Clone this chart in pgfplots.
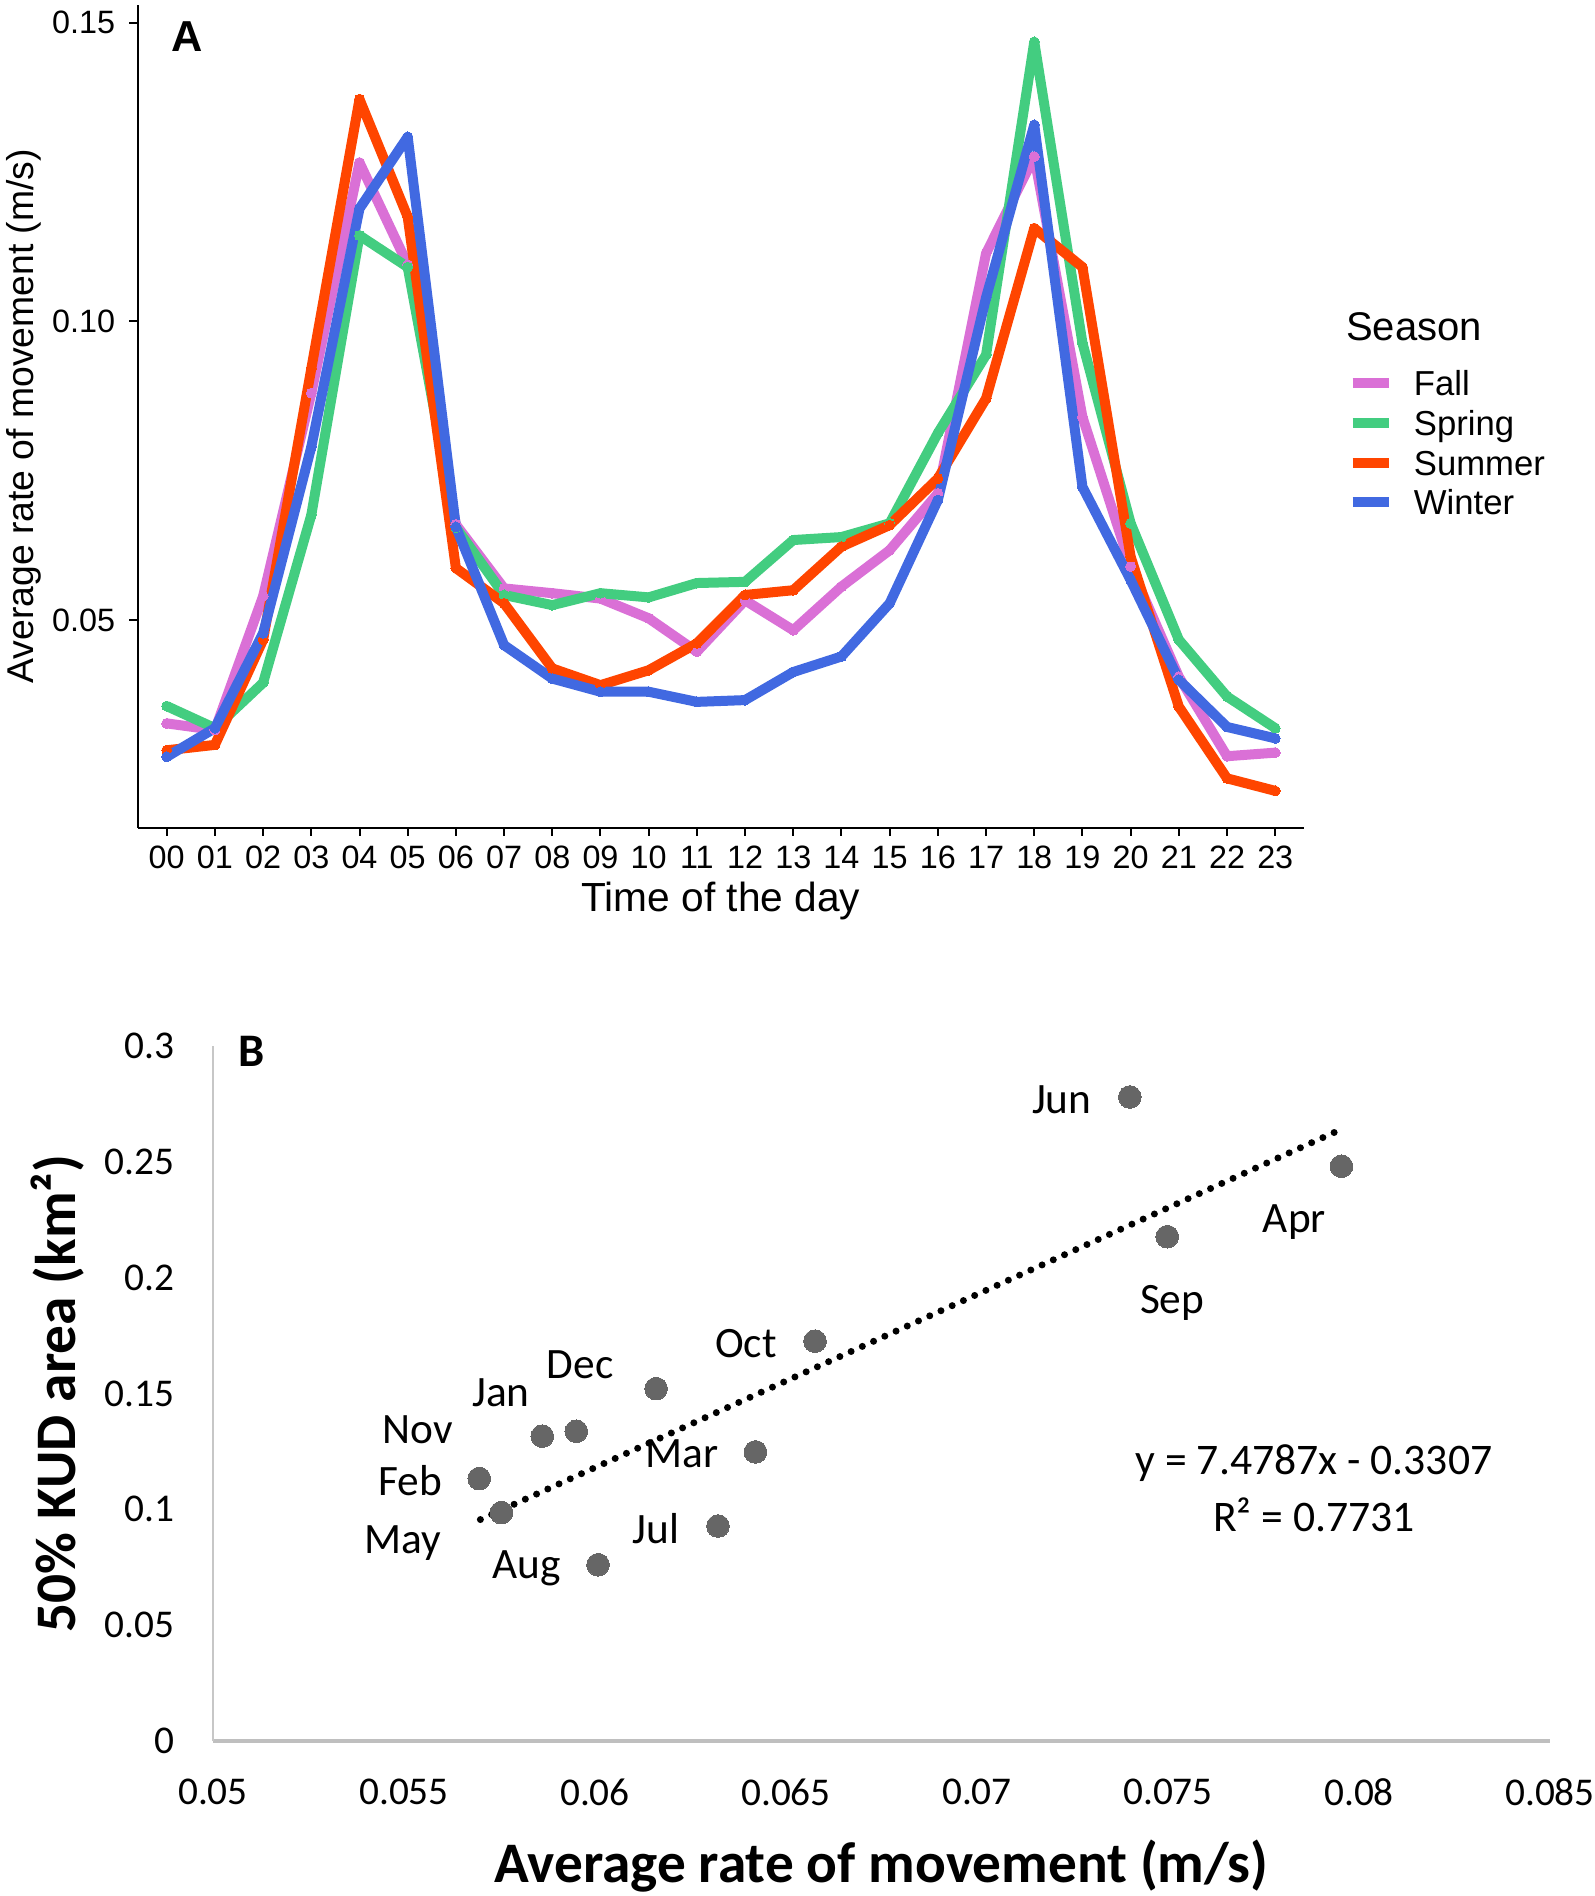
\documentclass[border=0pt]{standalone}
\usepackage{fontspec}
\setmainfont{Liberation Sans}
\newfontfamily\calib{Carlito}
\usepackage{pgfplots}
\pgfplotsset{compat=1.18}
\usepackage{pgfplotstable}

\definecolor{cfall}{RGB}{218,112,214}
\definecolor{cspring}{RGB}{67,205,128}
\definecolor{csummer}{RGB}{255,69,0}
\definecolor{cwinter}{RGB}{65,105,225}
\definecolor{cpt}{RGB}{102,102,102}

\pgfplotstableread{
h fall spring summer winter
0 0.0327 0.0356 0.0282 0.0271
1 0.0316 0.0319 0.0291 0.0319
2 0.0540 0.0395 0.0467 0.0478
3 0.0880 0.0676 0.0921 0.0790
4 0.1266 0.1144 0.1372 0.1189
5 0.1095 0.1091 0.1175 0.1309
6 0.0660 0.0655 0.0587 0.0656
7 0.0553 0.0542 0.0528 0.0458
8 0.0545 0.0525 0.0419 0.0402
9 0.0536 0.0545 0.0391 0.0380
10 0.0503 0.0538 0.0416 0.0380
11 0.0447 0.0562 0.0461 0.0363
12 0.0533 0.0564 0.0542 0.0366
13 0.0483 0.0634 0.0550 0.0413
14 0.0556 0.0639 0.0623 0.0439
15 0.0617 0.0662 0.0659 0.0528
16 0.0712 0.0813 0.0737 0.0701
17 0.1114 0.0944 0.0871 0.1040
18 0.1276 0.1468 0.1156 0.1329
19 0.0840 0.0964 0.1091 0.0723
20 0.0590 0.0662 0.0606 0.0567
21 0.0405 0.0467 0.0355 0.0400
22 0.0272 0.0372 0.0235 0.0321
23 0.0278 0.0319 0.0214 0.0302
}\seasondata

\pgfplotstableread{
x y
0.07400 0.2780
0.07954 0.2481
0.07498 0.2177
0.06576 0.1726
0.06160 0.1521
0.05951 0.1337
0.05862 0.1316
0.06420 0.1248
0.05697 0.1133
0.05755 0.0986
0.06322 0.0928
0.06008 0.0761
}\kuddata

\begin{document}
\begin{tikzpicture}
\path[use as bounding box] (0,0) rectangle (478.2pt,-568.8pt);

% ---------------- Panel A ----------------
\begin{axis}[
  at={(41.34pt,-248.28pt)}, anchor=south west,
  scale only axis, width=349.9pt, height=246.8pt,
  xmin=-0.6, xmax=23.6, ymin=0.01525, ymax=0.1530,
  axis lines*=left,
  axis line style={line width=0.6pt, black},
  every tick/.style={black, line width=0.6pt},
  tick align=outside, major tick length=2.5pt,
  xtick={0,1,...,23},
  xticklabels={00,01,02,03,04,05,06,07,08,09,10,11,12,13,14,15,16,17,18,19,20,21,22,23},
  ytick={0.05,0.10,0.15}, yticklabels={0.05,0.10,0.15},
  scaled ticks=false,
  ticklabel style={font=\fontsize{9.7}{11}\selectfont, inner sep=0pt},
  xticklabel style={anchor=center, yshift=-6.5pt},
  yticklabel style={anchor=east, xshift=-4.1pt},
  xlabel={Time of the day}, ylabel={Average rate of movement (m/s)},
  xlabel style={font=\fontsize{12.2}{13}\selectfont, inner sep=0pt, at={(axis description cs:0.5,-0.0895)}, anchor=center},
  ylabel style={font=\fontsize{11.2}{13}\selectfont, inner sep=0pt, at={(axis description cs:-0.0975,0.5)}, anchor=center},
  clip=false,
  every axis plot/.append style={line width=3pt, line join=round, mark=*, mark size=1.5pt,
     mark options={draw=none, line width=0pt}},
  legend cell align=left,
  legend image code/.code={\draw[#1, line width=3pt, mark=none] (0pt,0pt) -- (10.8pt,0pt);},
  legend style={at={(axis description cs:1.0367,0.5561)}, anchor=north west,
    draw=none, fill=none, inner sep=0pt, row sep=4.4pt,
    font=\fontsize{10.4}{12}\selectfont,
    nodes={inner sep=0pt, text height=7.5pt, text depth=0pt},
    /tikz/every odd column/.style={column sep=6.1pt}},
]
\addplot[cfall] table[x=h, y=fall] {\seasondata};
\addlegendentry{Fall}
\addplot[cspring] table[x=h, y=spring] {\seasondata};
\addlegendentry{Spring}
\addplot[csummer] table[x=h, y=summer] {\seasondata};
\addlegendentry{Summer}
\addplot[cwinter] table[x=h, y=winter] {\seasondata};
\addlegendentry{Winter}
\node[font=\bfseries\fontsize{13}{14}\selectfont, inner sep=0pt] at (axis description cs:0.0425,0.9612) {A};
\node[font=\fontsize{12}{13}\selectfont, inner sep=0pt, anchor=west] at (axis description cs:1.0355,0.6084) {Season};
\end{axis}

% ---------------- Panel B ----------------
\begin{axis}[
  at={(63.9pt,-522.3pt)}, anchor=south west,
  scale only axis, width=401.1pt, height=208.5pt,
  xmin=0.05, xmax=0.085, ymin=0, ymax=0.3,
  axis x line*=bottom, axis y line*=left,
  x axis line style={draw=black!25, line width=1.1pt},
  y axis line style={draw=black!22, line width=0.6pt},
  major tick length=0pt,
  xtick={0.05,0.055,0.06,0.065,0.07,0.075,0.08,0.085},
  xticklabels={0.05,0.055,0.06,0.065,0.07,0.075,0.08,0.085},
  ytick={0,0.05,0.1,0.15,0.2,0.25,0.3},
  yticklabels={0,0.05,0.1,0.15,0.2,0.25,0.3},
  scaled ticks=false,
  ticklabel style={font=\calib\fontsize{11.8}{13}\selectfont, inner sep=0pt},
  xticklabel style={anchor=center, yshift=-15.3pt},
  yticklabel style={anchor=east, xshift=-11.3pt},
  xlabel={Average rate of movement (m/s)}, ylabel={50\% KUD area (km²)},
  label style={font=\calib\bfseries\fontsize{17.2}{19}\selectfont, inner sep=0pt},
  xlabel style={at={(axis description cs:0.5,-0.1799)}, anchor=center},
  ylabel style={at={(axis description cs:-0.1159,0.5)}, anchor=center},
  clip=false,
]
\addplot[only marks, color=cpt, mark=*, mark size=3.4pt, mark options={draw=cpt, fill=cpt, line width=0pt}] table[x=x, y=y] {\kuddata};
\addplot[black, line width=2.1pt, line cap=round, dash pattern=on 0pt off 3.7pt] coordinates {(0.057,0.0956) (0.0795,0.2638)};
\begin{scope}[every node/.style={font=\calib\fontsize{13}{14}\selectfont, inner sep=0pt}]
\node at (axis cs:0.07222,0.2769) {Jun};
\node at (axis cs:0.07831,0.2240) {Apr};
\node at (axis cs:0.07511,0.1893) {Sep};
\node at (axis cs:0.06395,0.1715) {Oct};
\node at (axis cs:0.05961,0.1626) {Dec};
\node at (axis cs:0.05754,0.1505) {Jan};
\node at (axis cs:0.05536,0.1343) {Nov};
\node at (axis cs:0.06227,0.1238) {Mar};
\node at (axis cs:0.05517,0.1122) {Feb};
\node at (axis cs:0.05498,0.0855) {May};
\node at (axis cs:0.06160,0.0918) {Jul};
\node at (axis cs:0.05821,0.0745) {Aug};
\end{scope}
\node[font=\calib\fontsize{13.1}{14}\selectfont, inner sep=0pt] at (axis cs:0.07882,0.1201) {y = 7.4787x - 0.3307};
\node[font=\calib\fontsize{13.1}{14}\selectfont, inner sep=0pt] at (axis cs:0.07882,0.0976) {R² = 0.7731};
\node[font=\calib\bfseries\fontsize{14}{15}\selectfont, inner sep=0pt] at (axis description cs:0.0289,0.9928) {B};
\end{axis}
\end{tikzpicture}
\end{document}
